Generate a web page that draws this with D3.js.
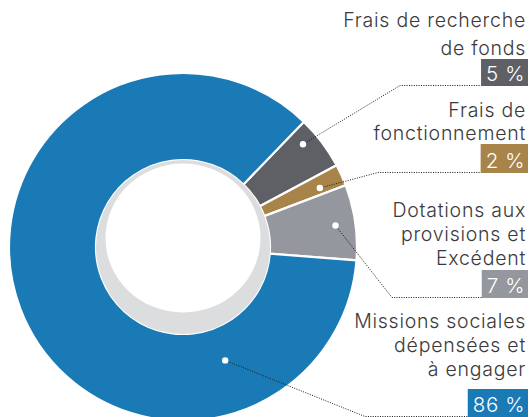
<!DOCTYPE html>
<html><head><meta charset="utf-8">
<script src="https://cdn.jsdelivr.net/npm/d3@7"></script>
<style>body{margin:0;background:#fff;}svg{display:block;}</style>
</head><body>
<svg id="chart" width="530" height="417"></svg>
<script>
// ---- data ----
const categories = ["Frais de recherche de fonds", "Frais de fonctionnement", "Dotations aux provisions et Excédent", "Missions sociales dépensées et à engager"];
const values = [5, 2, 7, 86];
const valueLabels = ["5 %", "2 %", "7 %", "86 %"];
const labelLines = [["Frais de recherche", "de fonds"], ["Frais de", "fonctionnement"], ["Dotations aux", "provisions et", "Excédent"], ["Missions sociales", "dépensées et", "à engager"]];

// ---- styling / layout ----
const colors = ["#5e6066", "#a9844a", "#94979d", "#1a7ab6"];
const cx = 183, cy = 247, outerR = 174, innerR = 87;
const startDeg = 44;
const dotPolar = [[49.4, 158], [66.7, 149], [82, 154], [159.6, 121]];
const elbowX = [400, 378, 392, 365];
const boxTop = [59, 144, 270, 389];
const boxH = [27, 29, 28, 28];
const firstBaseline = [27, 117, 217, 328];
const lineStep = [28, 23, 24, 24];
const rightX = 527;
const font = "Inter, Lato, sans-serif";

const svg = d3.select("#chart");
const g = svg.append("g").attr("transform", `translate(${cx},${cy})`);

const pie = d3.pie().sort(null)
  .startAngle(startDeg * Math.PI / 180)
  .endAngle(startDeg * Math.PI / 180 + 2 * Math.PI);
const arcs = pie(values);
const arc = d3.arc().innerRadius(innerR).outerRadius(outerR);

g.selectAll("path.slice").data(arcs).enter().append("path")
  .attr("class", "slice")
  .attr("d", arc)
  .attr("fill", (d, i) => colors[i])
  .attr("stroke", "#fff")
  .attr("stroke-width", 2.2)
  .attr("stroke-linejoin", "miter");

// inner grey ring + white hole
g.append("circle").attr("r", innerR).attr("fill", "#dcdddf");
g.append("ellipse").attr("cx", 0).attr("cy", -9).attr("rx", 77.5).attr("ry", 74.5).attr("fill", "#fff");

// labels
const lab = svg.append("g").attr("font-family", font);
labelLines.forEach((lines, i) => {
  const t = lab.append("text").attr("text-anchor", "end").attr("fill", "#3a3a3c")
    .attr("font-size", 19.5).attr("font-weight", 300).attr("letter-spacing", 0.75);
  lines.forEach((ln, j) => {
    t.append("tspan").attr("x", rightX - 1).attr("y", firstBaseline[i] + j * lineStep[i]).text(ln);
  });
});

// value boxes
const boxLeft = [];
valueLabels.forEach((v, i) => {
  const grp = svg.append("g");
  const rect = grp.append("rect");
  const t = grp.append("text").attr("text-anchor", "end").attr("font-family", font)
    .attr("font-size", 20.5).attr("font-weight", 300).attr("fill", "#fff").attr("letter-spacing", 0.6)
    .attr("x", rightX - 2).attr("y", boxTop[i] + boxH[i] - 5).text(v);
  const bb = t.node().getBBox();
  const left = bb.x - 5;
  boxLeft.push(left);
  rect.attr("x", left).attr("y", boxTop[i]).attr("width", rightX + 1 - left).attr("height", boxH[i])
    .attr("fill", colors[i]);
});

// leader lines + dots
arcs.forEach((d, i) => {
  const [px, py] = d3.pointRadial(dotPolar[i][0] * Math.PI / 180, dotPolar[i][1]);
  const x0 = cx + px, y0 = cy + py;
  const yb = boxTop[i] + boxH[i];
  svg.append("path")
    .attr("d", d3.line()([[x0, y0], [elbowX[i], yb - 0.5], [boxLeft[i], yb - 0.5]]))
    .attr("fill", "none").attr("stroke", "#1a1a1a").attr("stroke-width", 1)
    .attr("stroke-dasharray", "1,1.4");
  svg.append("circle").attr("cx", x0).attr("cy", y0).attr("r", 3.2).attr("fill", "#fff");
});
</script>
</body></html>
